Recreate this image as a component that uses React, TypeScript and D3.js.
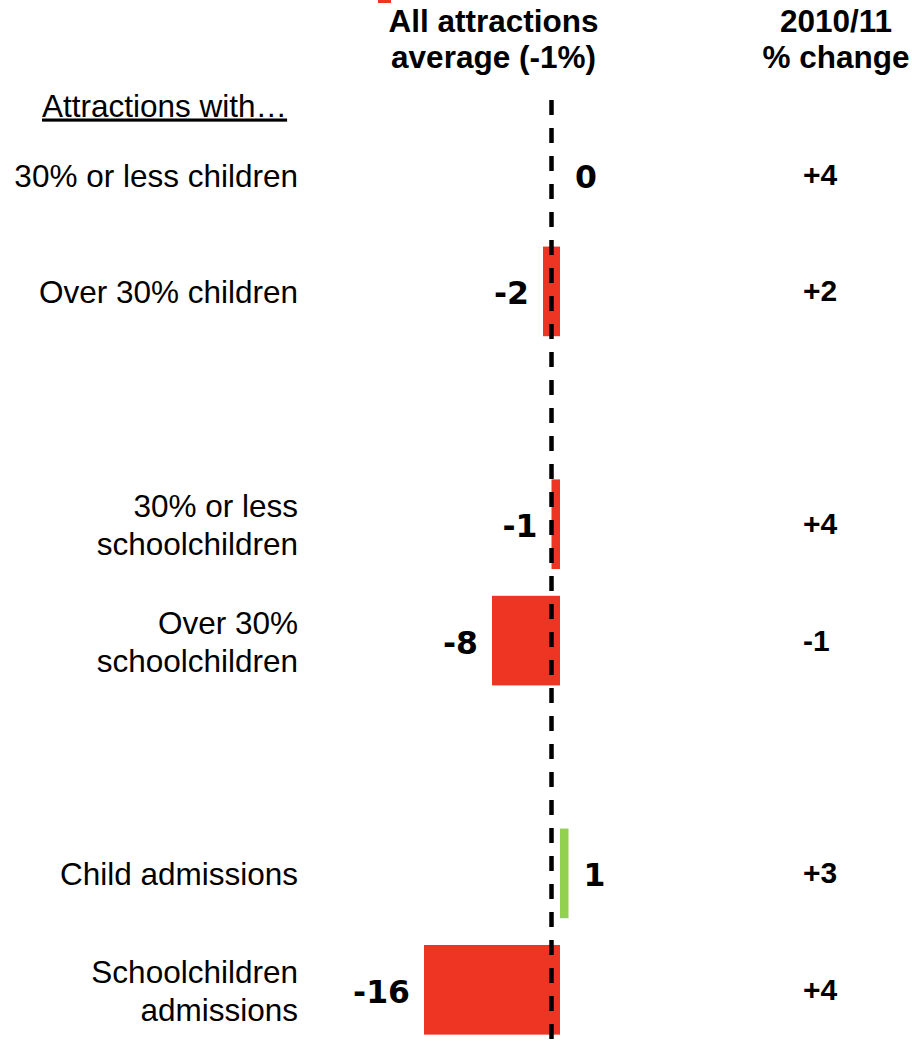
import React, { useEffect, useRef } from 'react';
import * as d3 from 'd3';

// Rows of the chart (line breaks kept as in the original slide)
const categories = [
  ['30% or less children'],
  ['Over 30% children'],
  ['30% or less', 'schoolchildren'],
  ['Over 30%', 'schoolchildren'],
  ['Child admissions'],
  ['Schoolchildren', 'admissions'],
];
// which block each row belongs to (a blank row sits between blocks)
const groups = [0, 0, 1, 1, 2, 2];
// difference from all attractions average, percentage points
const values = [0, -2, -1, -8, 1, -16];
// 2010/11 % change column
const changeLabels = ['+4', '+2', '+4', '-1', '+3', '+4'];
const averageValue = -1;

const RED = '#EE3524';
const GREEN = '#92D050';
const SANS = 'Arial, "Liberation Sans", sans-serif';
const VERDANA = 'Verdana, "DejaVu Sans", sans-serif';

const App = () => {
  const ref = useRef<SVGSVGElement>(null);

  useEffect(() => {
    const width = 912;
    const height = 1042;
    const svg = d3.select(ref.current);
    svg.selectAll('*').remove();
    svg.attr('width', width).attr('height', height);

    // value axis: -16 .. +1
    const x = d3.scaleLinear().domain([-16, 1]).range([424, 568.5]);

    // 8 slots: 6 rows plus 2 spacer rows
    const y = d3.scaleBand<number>()
      .domain(d3.range(8))
      .range([116.8, 1048])
      .paddingInner(0.23)
      .paddingOuter(0.115);
    const slot = (i: number) => i + groups[i];
    const mid = (i: number) => (y(slot(i)) as number) + y.bandwidth() / 2;

    // cut off legend swatch at the very top
    svg.append('rect')
      .attr('x', 378).attr('y', 0).attr('width', 13).attr('height', 3)
      .attr('fill', RED);

    // column headers
    const header = (cx: number, lines: string[]) => {
      const t = svg.append('text')
        .attr('text-anchor', 'middle')
        .attr('font-family', SANS)
        .attr('font-weight', 'bold')
        .attr('font-size', 31.5)
        .attr('fill', '#000');
      lines.forEach((l, k) => {
        t.append('tspan').attr('x', cx).attr('y', 32 + k * 36).text(l);
      });
    };
    header(x(averageValue) - 58, ['All attractions', 'average (-1%)']);
    header(836, ['2010/11', '% change']);

    svg.append('text')
      .attr('x', 42).attr('y', 116.5)
      .attr('font-family', SANS)
      .attr('font-size', 31.5)
      .attr('text-decoration', 'underline')
      .text('Attractions with…');

    // bars
    svg.append('g')
      .selectAll('rect')
      .data(values)
      .join('rect')
        .attr('x', d => x(Math.min(0, d)))
        .attr('width', d => Math.abs(x(d) - x(0)))
        .attr('y', (d, i) => y(slot(i)) as number)
        .attr('height', y.bandwidth())
        .attr('fill', d => (d > 0 ? GREEN : RED));

    // average line
    svg.append('line')
      .attr('x1', x(averageValue)).attr('x2', x(averageValue))
      .attr('y1', 100).attr('y2', height)
      .attr('stroke', '#000')
      .attr('stroke-width', 4.5)
      .attr('stroke-dasharray', '15 13');

    // value labels next to the bars
    svg.append('g')
      .selectAll('text')
      .data(values)
      .join('text')
        .attr('x', d => (d < 0 ? x(d) - 14 : x(d) + 15))
        .attr('y', (d, i) => mid(i) + 13)
        .attr('text-anchor', d => (d < 0 ? 'end' : 'start'))
        .attr('font-family', VERDANA)
        .attr('font-weight', 'bold')
        .attr('font-size', 31.5)
        .text(d => String(d));

    // row labels, right aligned
    const lineGap = 38;
    categories.forEach((lines, i) => {
      const t = svg.append('text')
        .attr('text-anchor', 'end')
        .attr('font-family', SANS)
        .attr('font-size', 31.5)
        .attr('fill', '#000');
      const first = mid(i) + 12 - ((lines.length - 1) * lineGap) / 2;
      lines.forEach((l, k) => {
        t.append('tspan').attr('x', 298).attr('y', first + k * lineGap).text(l);
      });
    });

    // % change column
    svg.append('g')
      .selectAll('text')
      .data(changeLabels)
      .join('text')
        .attr('x', 803)
        .attr('y', (d, i) => mid(i) + 10)
        .attr('font-family', SANS)
        .attr('font-weight', 'bold')
        .attr('font-size', 30)
        .text(d => d);
  }, []);

  return (
    <svg
      ref={ref}
      style={{ position: 'absolute', left: 0, top: 0, background: '#fff', display: 'block' }}
    />
  );
};

export default App;
